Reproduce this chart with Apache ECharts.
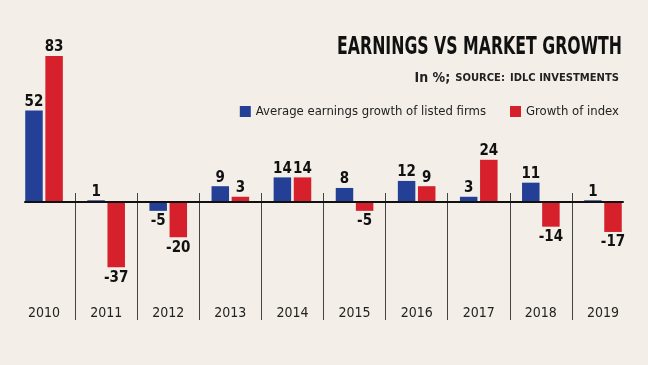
<!DOCTYPE html>
<html><head><meta charset="utf-8">
<script src="https://cdn.jsdelivr.net/npm/echarts@6/dist/echarts.min.js"></script>
<style>html,body{margin:0;padding:0;background:#f3efe8}#c{width:648px;height:365px}</style>
</head><body><div id="c"></div>
<script>
const years = ['2010','2011','2012','2013','2014','2015','2016','2017','2018','2019'];
const earnings = [52, 1, -5, 9, 14, 8, 12, 3, 11, 1];
const indexGrowth = [83, -37, -20, 3, 14, -5, 9, 24, -14, -17];
const seriesNames = ['Average earnings growth of listed firms', 'Growth of index'];
const titleText = 'EARNINGS VS MARKET GROWTH';

const NARROW = "'DejaVu Sans Condensed', 'Liberation Sans Narrow', sans-serif";
const BLUE = '#233f96';
const RED = '#d6202b';

function withLabels(arr) {
  return arr.map(v => ({
    value: v,
    label: { position: v < 0 ? 'bottom' : 'top', distance: v < 0 ? 3 : 1 }
  }));
}

const labelStyle = {
  show: true, fontFamily: NARROW, fontWeight: 'bold', fontSize: 15, color: '#111'
};

const chart = echarts.init(document.getElementById('c'), null, { renderer: 'canvas' });
chart.setOption({
  backgroundColor: '#f3efe8',
  animation: false,
  graphic: [
    {
      type: 'text', right: 26, top: 35, scaleX: 0.7, scaleY: 1,
      style: { text: titleText, fontFamily: NARROW, fontWeight: 'bold', fontSize: 25, fill: '#111' }
    }
  ],
  title: [
    {
      text: '{a|In %;} {b|SOURCE:} {c|IDLC INVESTMENTS}', right: 24, top: 64,
      textStyle: {
        rich: {
          a: { fontFamily: NARROW, fontSize: 14, color: '#222' },
          b: { fontFamily: "'DejaVu Sans', sans-serif", fontSize: 10, color: '#222' },
          c: { fontFamily: "'DejaVu Sans', sans-serif", fontWeight: 'bold', fontSize: 10, color: '#222' }
        }
      }
    }
  ],
  legend: {
    right: 24, top: 100, icon: 'rect', itemWidth: 11, itemHeight: 11, itemGap: 24,
    textStyle: { fontFamily: NARROW, fontSize: 13, color: '#222' },
    data: seriesNames
  },
  grid: [
    { left: 13, right: 14, top: 20, bottom: 45 },
    { left: 13, right: 14, top: 193, bottom: 45 },
    { left: 25, right: 25, top: 20, bottom: 45 }
  ],
  xAxis: [
    { type: 'category', gridIndex: 0, data: years, axisLine: { show: false }, axisTick: { show: false }, axisLabel: { show: false } },
    {
      type: 'category', gridIndex: 1, data: years,
      axisLine: { show: false }, axisTick: { show: false },
      splitLine: { show: true, showMinLine: false, showMaxLine: false, lineStyle: { color: '#444', width: 1 } },
      axisLabel: { fontFamily: NARROW, fontSize: 14, color: '#222', margin: -14 }
    },
    {
      type: 'category', gridIndex: 2, data: years, z: 10,
      axisLine: { show: true, onZero: true, lineStyle: { color: '#111', width: 2 } },
      axisTick: { show: false }, axisLabel: { show: false }
    }
  ],
  yAxis: [
    { type: 'value', gridIndex: 0, min: -67, max: 103.4, show: false },
    { type: 'value', gridIndex: 1, min: 0, max: 1, show: false },
    { type: 'value', gridIndex: 2, min: -67, max: 103.4, show: false }
  ],
  series: [
    {
      name: seriesNames[0], type: 'bar', xAxisIndex: 0, yAxisIndex: 0,
      data: withLabels(earnings), barWidth: 17.5, barGap: '15%',
      itemStyle: { color: BLUE }, label: labelStyle
    },
    {
      name: seriesNames[1], type: 'bar', xAxisIndex: 0, yAxisIndex: 0,
      data: withLabels(indexGrowth), barWidth: 17.5, barGap: '15%',
      itemStyle: { color: RED }, label: labelStyle
    }
  ]
});
</script>
</body></html>
